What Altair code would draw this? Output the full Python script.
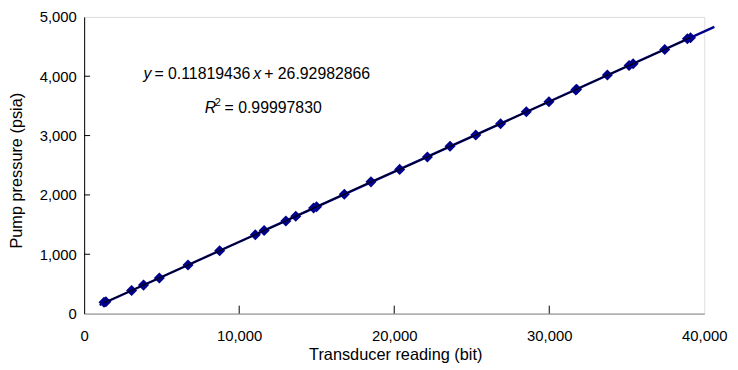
import altair as alt
import pandas as pd

# Data
reading_bit = [1280, 1400, 3060, 3830, 4850, 6700, 8740, 11040, 11610, 13010,
               13650, 14800, 14990, 16780, 18500, 20350, 22140, 23600, 25260, 26860,
               28520, 29980, 31710, 31770, 33750, 35150, 35410, 37450, 38910, 39110]
pressure_psia = [190, 200, 390, 480, 600, 820, 1060, 1330, 1400, 1560,
                 1640, 1780, 1800, 2010, 2220, 2430, 2640, 2820, 3010, 3200,
                 3400, 3570, 3770, 3780, 4020, 4180, 4210, 4450, 4630, 4650]

slope = 0.11819436
intercept = 26.92982866
fit_x = [1000, 40650]

x_ticks = [0, 10000, 20000, 30000, 40000]
y_ticks = [0, 1000, 2000, 3000, 4000, 5000]
x_inner_ticks = [10000, 20000, 30000]
y_inner_ticks = [1000, 2000, 3000, 4000]

eq_anchor = {"x": 3830, "y": 4033}
r2_anchor = {"x": 7780, "y": 3467}

FONT = "Liberation Sans"
W, H = 627, 300
NAVY = "#00008B"

pts = pd.DataFrame({"x": reading_bit, "y": pressure_psia})
fit = pd.DataFrame({"x": fit_x, "y": [slope * v + intercept for v in fit_x]})

xs = alt.Scale(domain=[0, 40000], nice=False)
ys = alt.Scale(domain=[0, 5000], nice=False)

xaxis = alt.Axis(values=x_ticks, format=",d", ticks=False, grid=False,
                 labelFont=FONT, labelFontSize=15, labelColor="black",
                 labelPadding=15, labelFlush=False, domainColor="#888888",
                 title="Transducer reading (bit)", titleFont=FONT, titleFontSize=16.5,
                 titleFontWeight="normal", titleColor="black",
                 titleBaseline="alphabetic", titleY=46, titleX=W / 2 + 1,
                 labelOverlap=False)
yaxis = alt.Axis(values=y_ticks, format=",d", ticks=False, grid=False,
                 labelFont=FONT, labelFontSize=15, labelColor="black",
                 labelPadding=8, labelFlush=False, domainColor="black",
                 title="Pump pressure (psia)", titleFont=FONT, titleFontSize=16.5,
                 titleFontWeight="normal", titleColor="black",
                 titleBaseline="middle", titleX=-68, titleY=155, titleAngle=-90,
                 labelOverlap=False)

points = alt.Chart(pts).mark_point(shape="diamond", filled=True, size=125,
                                   color=NAVY, opacity=1).encode(
    x=alt.X("x:Q", scale=xs, axis=xaxis),
    y=alt.Y("y:Q", scale=ys, axis=yaxis),
)

fit_line = alt.Chart(fit).mark_line(color=NAVY, strokeWidth=2.4, clip=False).encode(
    x=alt.X("x:Q", scale=xs), y=alt.Y("y:Q", scale=ys))

data_line = alt.Chart(pts).mark_line(color="black", strokeWidth=1.1).encode(
    x=alt.X("x:Q", scale=xs), y=alt.Y("y:Q", scale=ys))

xt = alt.Chart(pd.DataFrame({"x": x_inner_ticks})).mark_rule(color="black").encode(
    x=alt.X("x:Q", scale=xs), y=alt.value(H - 8), y2=alt.value(H))
yt = alt.Chart(pd.DataFrame({"y": y_inner_ticks})).mark_rule(color="black").encode(
    y=alt.Y("y:Q", scale=ys), x=alt.value(0), x2=alt.value(6))


def txt(anchor, text, dx, italic=False, size=16, dy=0):
    return alt.Chart(pd.DataFrame({"x": [anchor["x"]], "y": [anchor["y"]], "t": [text]})).mark_text(
        align="left", baseline="middle", font=FONT, fontSize=size,
        fontStyle="italic" if italic else "normal", color="black", dx=dx, dy=dy
    ).encode(x=alt.X("x:Q", scale=xs), y=alt.Y("y:Q", scale=ys), text="t:N")


texts = [
    txt(eq_anchor, "y", 0, italic=True),
    txt(eq_anchor, "= 0.11819436", 11),
    txt(eq_anchor, "x", 111, italic=True),
    txt(eq_anchor, "+ 26.92982866", 122),
    txt(r2_anchor, "R", 0, italic=True),
    txt(r2_anchor, "2", 10, size=11, dy=-5),
    txt(r2_anchor, "= 0.99997830", 20),
]

chart = alt.layer(points, fit_line, data_line, xt, yt, *texts).properties(
    width=W, height=H,
    autosize=alt.AutoSizeParams(type="none"),
    padding={"left": 77, "top": 7, "right": 26, "bottom": 51},
).configure_view(stroke="black", strokeWidth=1).configure(background="white")

chart.save("out.html", embed_options={"renderer": "svg", "actions": False})
